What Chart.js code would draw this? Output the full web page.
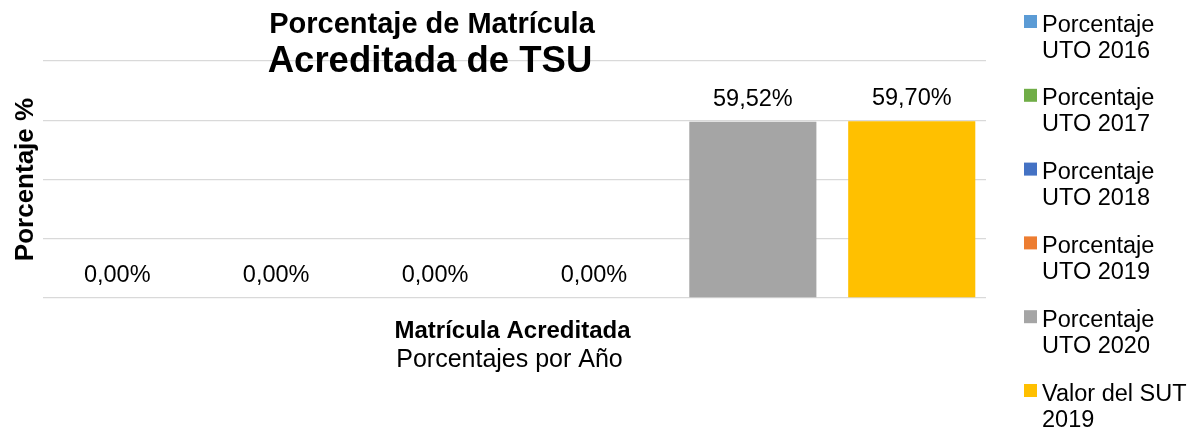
<!DOCTYPE html>
<html lang="es">
<head>
<meta charset="utf-8">
<title>Porcentaje de Matrícula Acreditada de TSU</title>
<script src="https://cdn.jsdelivr.net/npm/chart.js@4.4.1/dist/chart.umd.min.js"></script>
<style>
  html, body { margin: 0; padding: 0; background: #fff; }
  #grafica { display: block; }
</style>
</head>
<body>
<canvas id="grafica" width="1199" height="432"></canvas>
<script>
// Datos del gráfico
const categorias = ['Matrícula Acreditada'];
const series = [
  'Porcentaje UTO 2016',
  'Porcentaje UTO 2017',
  'Porcentaje UTO 2018',
  'Porcentaje UTO 2019',
  'Porcentaje UTO 2020',
  'Valor del SUT 2019'
];
const valores = [0, 0, 0, 0, 59.52, 59.70];
const colores = ['#5B9BD5', '#70AD47', '#4472C4', '#ED7D31', '#A5A5A5', '#FFC000'];
const tituloLineas = ['Porcentaje de Matrícula', 'Acreditada de TSU'];
const tituloEjeX = 'Porcentajes por Año';
const tituloEjeY = 'Porcentaje %';

const FUENTE = "'Liberation Sans', Arial, sans-serif";
Chart.defaults.font.family = FUENTE;

function formato(v) {
  return v.toFixed(2).replace('.', ',') + '%';
}

// Parte el texto en líneas que quepan en el ancho dado
function partirTexto(ctx, texto, ancho) {
  const palabras = texto.split(' ');
  const lineas = [];
  let actual = '';
  palabras.forEach(p => {
    const prueba = actual ? actual + ' ' + p : p;
    if (actual && ctx.measureText(prueba).width > ancho) {
      lineas.push(actual);
      actual = p;
    } else {
      actual = prueba;
    }
  });
  if (actual) lineas.push(actual);
  return lineas;
}

// Textos: etiquetas de datos, títulos y leyenda
const textosPlugin = {
  id: 'textos',
  afterDraw(chart) {
    const ctx = chart.ctx;
    const area = chart.chartArea;
    const xScale = chart.scales.x;
    ctx.save();
    ctx.fillStyle = '#000';
    ctx.textBaseline = 'alphabetic';

    // etiquetas encima de las barras
    ctx.font = '23.5px ' + FUENTE;
    ctx.textAlign = 'center';
    chart.data.datasets.forEach((ds, i) => {
      chart.getDatasetMeta(i).data.forEach((bar, j) => {
        ctx.fillText(formato(ds.data[j]), bar.x, bar.y - 16);
      });
    });

    // título
    ctx.font = 'bold 29px ' + FUENTE;
    ctx.fillText(tituloLineas[0], 432, 33);
    ctx.font = 'bold 36.5px ' + FUENTE;
    ctx.fillText(tituloLineas[1], 430, 72);

    // categoría y título del eje X
    ctx.font = 'bold 24px ' + FUENTE;
    categorias.forEach((c, i) => {
      ctx.fillText(c, xScale.getPixelForValue(i) - 2, 338);
    });
    ctx.font = '25px ' + FUENTE;
    ctx.fillText(tituloEjeX, (area.left + area.right) / 2 - 5, 367);

    // título del eje Y
    ctx.save();
    ctx.translate(32.5, (area.top + area.bottom) / 2);
    ctx.rotate(-Math.PI / 2);
    ctx.font = 'bold 26px ' + FUENTE;
    ctx.fillText(tituloEjeY, 0, 0);
    ctx.restore();

    // leyenda a la derecha
    ctx.font = '23.5px ' + FUENTE;
    ctx.textAlign = 'left';
    const xTexto = 1042;
    let y = 31.5;
    chart.data.datasets.forEach(ds => {
      ctx.fillStyle = ds.backgroundColor;
      ctx.fillRect(1024, y - 16.5, 13, 13);
      ctx.fillStyle = '#000';
      const lineas = partirTexto(ctx, ds.label, chart.width - xTexto - 2);
      lineas.forEach((l, k) => ctx.fillText(l, xTexto, y + k * 26));
      y += 73.8;
    });
    ctx.restore();
  }
};

const data = {
  labels: categorias,
  datasets: series.map((nombre, i) => ({
    label: nombre,
    data: [valores[i]],
    backgroundColor: colores[i],
    borderWidth: 0,
    barPercentage: 0.8,
    categoryPercentage: 1.011
  }))
};

const config = {
  type: 'bar',
  data: data,
  options: {
    responsive: false,
    animation: false,
    layout: {
      padding: { left: 43, right: 213, top: 61, bottom: 134 }
    },
    scales: {
      x: {
        ticks: { display: false },
        grid: { display: false, drawTicks: false },
        border: { display: false }
      },
      y: {
        min: 0,
        max: 80,
        ticks: { display: false, stepSize: 20 },
        grid: { color: '#D9D9D9', lineWidth: 1.3, drawTicks: false },
        border: { display: false }
      }
    },
    plugins: {
      legend: { display: false },
      title: { display: false },
      tooltip: { enabled: false }
    }
  },
  plugins: [textosPlugin]
};

const chart = new Chart(document.getElementById('grafica').getContext('2d'), config);
</script>
</body>
</html>
